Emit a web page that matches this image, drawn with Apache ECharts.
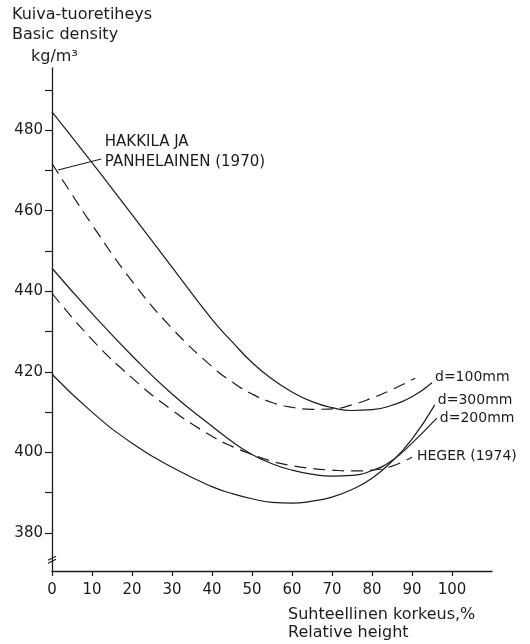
<!DOCTYPE html>
<html>
<head>
<meta charset="utf-8">
<script src="https://cdn.jsdelivr.net/npm/echarts@6/dist/echarts.min.js"></script>
<style>
  html, body { margin: 0; padding: 0; background: #fff; }
  #chart { width: 530px; height: 644px; }
</style>
</head>
<body>
<div id="chart"></div>
<script>
// Basic density (kg/m3) along the stem against relative height (%)

// d = 100 mm, solid
const xD100 = [0, 10, 20, 30, 40, 45, 50, 55, 60, 65, 70, 75, 80, 85, 90, 95];
const yD100 = [484.5, 471.9, 459, 446, 433, 427.5, 422.3, 418.2, 415, 412.6, 411.1, 410.4, 410.6, 411.7, 413.8, 417.3];

// Hakkila ja Panhelainen (1970), dashed
const xHakkila = [0, 5, 10, 20, 30, 40, 45, 50, 55, 60, 65, 70, 75, 80, 85, 90.8];
const yHakkila = [471.7, 464, 456.5, 442.5, 430.8, 421.3, 417.5, 414.5, 412.4, 411.2, 410.7, 410.8, 411.8, 413.5, 415.6, 418.4];

// d = 200 mm, solid
const xD200 = [0, 10, 20, 30, 40, 45, 50, 55, 60, 65, 70, 75, 80, 85, 90, 96.2];
const yD200 = [445.7, 434.5, 424, 414.5, 406.5, 402.7, 399.5, 397.2, 395.6, 394.6, 394.1, 394.3, 395.5, 398, 402.3, 408.5];

// Heger (1974), dashed
const xHeger = [0, 10, 20, 30, 40, 45, 50, 55, 60, 65, 70, 75, 80, 85, 90];
const yHeger = [439.5, 428, 418.5, 410.5, 404, 401.5, 399.5, 397.8, 396.7, 396, 395.6, 395.4, 395.6, 396.6, 398.8];

// d = 300 mm, solid
const xD300 = [0, 10, 20, 30, 40, 45, 50, 55, 60, 65, 70, 75, 80, 85, 90, 95.7];
const yD300 = [419.4, 410, 402.3, 396.3, 391.5, 389.8, 388.5, 387.6, 387.4, 387.9, 388.9, 390.8, 393.6, 397.8, 403.3, 411.8];

// Axis ticks and labels
const xTickValues = [0, 10, 20, 30, 40, 50, 60, 70, 80, 90, 100];
const yTickValues = [380, 390, 400, 410, 420, 430, 440, 450, 460, 470, 480, 490];
const yLabelValues = [380, 400, 420, 440, 460, 480];

const FONT = 'DejaVu Sans';
const INK = '#1c1c1c';

function pairs(xs, ys) {
  return xs.map((x, i) => [x, ys[i]]);
}

function curve(name, xs, ys, dashed, label, offset) {
  return {
    type: 'line',
    name: name,
    data: pairs(xs, ys),
    smooth: 0.5,
    symbol: 'none',
    silent: true,
    lineStyle: { color: INK, width: 1.2, type: dashed ? [12, 7] : 'solid' },
    endLabel: label ? {
      show: true,
      formatter: label,
      color: INK,
      fontFamily: FONT,
      fontSize: 14,
      distance: 3,
      offset: offset || [0, 0]
    } : { show: false }
  };
}

const chart = echarts.init(document.getElementById('chart'), null, { renderer: 'canvas' });

const option = {
  animation: false,
  backgroundColor: '#fff',
  grid: { left: 52, top: 68, right: 38, bottom: 73, containLabel: false },
  xAxis: {
    type: 'value',
    min: 0,
    max: 110,
    axisLine: { show: true, lineStyle: { color: INK, width: 1.3 } },
    axisTick: { show: true, length: 5, customValues: xTickValues, lineStyle: { color: INK, width: 1.2 } },
    axisLabel: { customValues: xTickValues, margin: 12, color: INK, fontFamily: FONT, fontSize: 15 },
    splitLine: { show: false }
  },
  yAxis: {
    type: 'value',
    min: 370.57,
    max: 495.4,
    axisLine: { show: true, lineStyle: { color: INK, width: 1.3 } },
    axisTick: { show: true, length: 7, customValues: yTickValues, lineStyle: { color: INK, width: 1.2 } },
    axisLabel: { customValues: yLabelValues, margin: 9, color: INK, fontFamily: FONT, fontSize: 15 },
    splitLine: { show: false }
  },
  series: [
    curve('d=100mm', xD100, yD100, false, 'd=100mm', [0, -5]),
    curve('Hakkila ja Panhelainen (1970)', xHakkila, yHakkila, true, null),
    curve('d=200mm', xD200, yD200, false, 'd=200mm', [0, 0]),
    curve('Heger (1974)', xHeger, yHeger, true, 'HEGER (1974)', [2, -1]),
    curve('d=300mm', xD300, yD300, false, 'd=300mm', [0, -5])
  ]
};

chart.setOption(option);

// Annotations placed from data coordinates
const px = (x, y) => chart.convertToPixel({ gridIndex: 0 }, [x, y]);
const leadFrom = px(1.5, 470.1);
const leadTo = px(12.3, 472.8);
const hakkilaAt = px(13.2, 476.9);
const breakAt = px(0, 373.5);

const textStyle = (text, x, y, size, align) => ({
  type: 'text',
  x: x,
  y: y,
  silent: true,
  style: {
    text: text,
    fill: INK,
    font: size + 'px "' + FONT + '"',
    textAlign: align || 'left',
    textVerticalAlign: 'middle'
  }
});

chart.setOption({
  graphic: [
    // Leader from the dashed curve to its label
    {
      type: 'line',
      silent: true,
      shape: { x1: leadFrom[0], y1: leadFrom[1], x2: leadTo[0], y2: leadTo[1] },
      style: { stroke: INK, lineWidth: 1.1 }
    },
    textStyle('HAKKILA JA', hakkilaAt[0], hakkilaAt[1], 15),
    textStyle('PANHELAINEN (1970)', hakkilaAt[0], hakkilaAt[1] + 20, 15),
    // Axis break marks on the value axis
    {
      type: 'line',
      silent: true,
      shape: { x1: breakAt[0] - 4, y1: breakAt[1] + 1, x2: breakAt[0] + 4, y2: breakAt[1] - 3 },
      style: { stroke: INK, lineWidth: 1.2 }
    },
    {
      type: 'line',
      silent: true,
      shape: { x1: breakAt[0] - 4, y1: breakAt[1] + 4, x2: breakAt[0] + 4, y2: breakAt[1] },
      style: { stroke: INK, lineWidth: 1.2 }
    },
    // Axis titles
    textStyle('Kuiva-tuoretiheys', 12, 15, 16),
    textStyle('Basic density', 12, 35, 16),
    textStyle('kg/m³', 31, 57, 16),
    textStyle('Suhteellinen korkeus,%', 288, 615, 16),
    textStyle('Relative height', 288, 633, 16)
  ]
});
</script>
</body>
</html>
